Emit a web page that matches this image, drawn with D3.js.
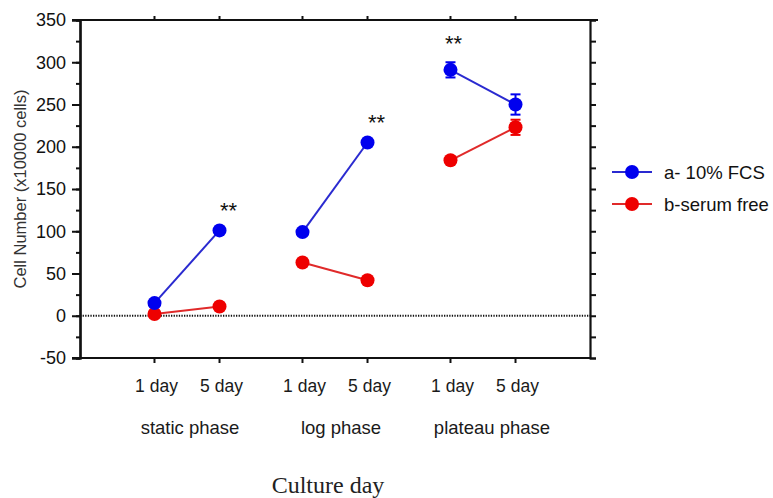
<!DOCTYPE html>
<html>
<head>
<meta charset="utf-8">
<script src="https://cdn.jsdelivr.net/npm/d3@7"></script>
<style>
  html, body { margin: 0; padding: 0; background: #fff; }
  svg { display: block; }
</style>
</head>
<body>
<svg id="chart" width="773" height="498"></svg>
<script>
// Culture phases and sampling days
const phases = ["static phase", "log phase", "plateau phase"];
const days = ["1 day", "5 day"];

// Cell number (x10000 cells), one value per phase/day
const fcsValues   = [15, 101, 99, 205, 291, 250];
const fcsErrors   = [2, 2, 2, 2, 9, 12];
const serumValues = [2, 11, 63, 42, 184, 223];
const serumErrors = [1, 1, 1, 1, 2, 9];

// Significance marks: [index into points, label]
const marks = [[1, "**"], [3, "**"], [4, "**"]];

const yTicks = [-50, 0, 50, 100, 150, 200, 250, 300, 350];
const seriesNames = ["a- 10% FCS", "b-serum free"];
const seriesColors = ["#0000ee", "#ee0000"];
const lineColors = ["#2a2ad0", "#e02a2a"];

const svg = d3.select("#chart");
const plotL = 80, plotR = 590, plotT = 20, plotB = 358;

const y = d3.scaleLinear().domain([-50, 350]).range([plotB, plotT]);
const xPhase = d3.scaleBand().domain(phases).range([plotL, plotR]).paddingInner(0).paddingOuter(0.223);
const xDay = d3.scalePoint().domain(days).range([0, xPhase.bandwidth()]).padding(0.638);

const points = [];
phases.forEach((p, i) => days.forEach((d, j) => points.push({ phase: p, day: d, k: i * 2 + j })));
const px = d => xPhase(d.phase) + xDay(d.day);

const font = "'Liberation Sans', Arial, sans-serif";

// Zero reference line
svg.append("line")
  .attr("x1", plotL).attr("x2", plotR)
  .attr("y1", y(0)).attr("y2", y(0))
  .attr("stroke", "#111").attr("stroke-width", 2)
  .attr("stroke-dasharray", "1.3,1.3");

// Left axis with major and minor ticks
const gL = svg.append("g").attr("transform", `translate(${plotL},0)`);
gL.call(d3.axisLeft(y).tickValues(d3.range(-50, 351, 25)).tickSize(4).tickFormat(""));
gL.append("g").call(d3.axisLeft(y).tickValues(yTicks).tickSize(8).tickFormat(d => String(d)).tickPadding(6));
gL.selectAll(".domain").attr("stroke-width", 2.2).attr("stroke", "#111");
gL.selectAll(".tick line").attr("stroke-width", 2).attr("stroke", "#111");
gL.selectAll(".tick text").attr("font-family", font).attr("font-size", 18).attr("fill", "#111");

// Right axis, ticks every 25 pointing outward
const gR = svg.append("g").attr("transform", `translate(${plotR},0)`)
  .call(d3.axisRight(y).tickValues(d3.range(-50, 351, 25)).tickSize(6).tickFormat(""));
gR.selectAll(".domain").attr("stroke-width", 2.2).attr("stroke", "#111");
gR.selectAll(".tick line").attr("stroke-width", 2).attr("stroke", "#111");

// Bottom and top frame lines with ticks at each sampling day
const xs = points.map(px);
const gB = svg.append("g");
gB.append("line").attr("x1", plotL - 8).attr("x2", plotR).attr("y1", plotB).attr("y2", plotB)
  .attr("stroke", "#111").attr("stroke-width", 2.2);
gB.selectAll("line.tk").data(xs).join("line").attr("class", "tk")
  .attr("x1", d => d).attr("x2", d => d).attr("y1", plotB).attr("y2", plotB + 5)
  .attr("stroke", "#111").attr("stroke-width", 2);
const gT = svg.append("g");
gT.append("line").attr("x1", plotL - 8).attr("x2", plotR + 8).attr("y1", plotT).attr("y2", plotT)
  .attr("stroke", "#111").attr("stroke-width", 2.2);
gT.selectAll("line.tk").data(xs).join("line").attr("class", "tk")
  .attr("x1", d => d).attr("x2", d => d).attr("y1", plotT).attr("y2", plotT - 4)
  .attr("stroke", "#111").attr("stroke-width", 2);

// Day labels and phase labels
svg.append("g").selectAll("text").data(points).join("text")
  .attr("x", d => px(d) + 2).attr("y", 392)
  .attr("text-anchor", "middle")
  .attr("font-family", font).attr("font-size", 17.5).attr("fill", "#1a1a1a")
  .text(d => d.day);
svg.append("g").selectAll("text").data(phases).join("text")
  .attr("x", (p, i) => xPhase(p) + xPhase.bandwidth() / 2 + 3 + i * 3).attr("y", 434)
  .attr("text-anchor", "middle")
  .attr("font-family", font).attr("font-size", 18.5).attr("fill", "#1a1a1a")
  .text(p => p);

// Axis titles
svg.append("text")
  .attr("transform", `translate(26,189) rotate(-90)`)
  .attr("text-anchor", "middle")
  .attr("font-family", font).attr("font-size", 16.5).attr("fill", "#333")
  .text("Cell Number (x10000 cells)");
svg.append("text")
  .attr("x", 328).attr("y", 493)
  .attr("text-anchor", "middle")
  .attr("font-family", "'Liberation Serif', 'Times New Roman', serif").attr("font-size", 24).attr("fill", "#222")
  .text("Culture day");

// Series: one line segment per phase, error bars and markers
const series = [
  { values: fcsValues, errors: fcsErrors },
  { values: serumValues, errors: serumErrors }
];
const line = d3.line().x(d => px(d)).y(d => y(d.v));

[1, 0].forEach(s => {
  const ser = series[s];
  const g = svg.append("g");
  const pts = points.map(p => ({ ...p, v: ser.values[p.k], e: ser.errors[p.k] }));
  phases.forEach(ph => {
    g.append("path").datum(pts.filter(p => p.phase === ph))
      .attr("d", line).attr("fill", "none")
      .attr("stroke", lineColors[s]).attr("stroke-width", 2);
  });
  const eb = g.selectAll("g.eb").data(pts).join("g").attr("class", "eb");
  eb.append("line")
    .attr("x1", px).attr("x2", px)
    .attr("y1", d => y(d.v + d.e)).attr("y2", d => y(d.v - d.e))
    .attr("stroke", seriesColors[s]).attr("stroke-width", 2);
  ["+", "-"].forEach(sign => {
    eb.append("line")
      .attr("x1", d => px(d) - 5).attr("x2", d => px(d) + 5)
      .attr("y1", d => y(sign === "+" ? d.v + d.e : d.v - d.e))
      .attr("y2", d => y(sign === "+" ? d.v + d.e : d.v - d.e))
      .attr("stroke", seriesColors[s]).attr("stroke-width", 2);
  });
  g.selectAll("circle").data(pts).join("circle")
    .attr("cx", px).attr("cy", d => y(d.v)).attr("r", 7)
    .attr("fill", seriesColors[s]);
});

// Significance asterisks above the FCS series
svg.append("g").selectAll("text").data(marks).join("text")
  .attr("x", m => px(points[m[0]]) + (m[0] === 4 ? 3 : 9))
  .attr("y", m => y(fcsValues[m[0]] + fcsErrors[m[0]]) - 11)
  .attr("text-anchor", "middle")
  .attr("font-family", font).attr("font-size", 22).attr("fill", "#111")
  .text(m => m[1]);

// Legend
const lg = svg.append("g").selectAll("g").data(seriesNames).join("g")
  .attr("transform", (d, i) => `translate(612,${172 + i * 32})`);
lg.append("line").attr("x1", 0).attr("x2", 40)
  .attr("stroke", (d, i) => lineColors[i]).attr("stroke-width", 2);
lg.append("circle").attr("cx", 20).attr("r", 7).attr("fill", (d, i) => seriesColors[i]);
lg.append("text").attr("x", 52).attr("y", 6.5)
  .attr("font-family", font).attr("font-size", 18.5).attr("fill", "#111")
  .text(d => d);
</script>
</body>
</html>
